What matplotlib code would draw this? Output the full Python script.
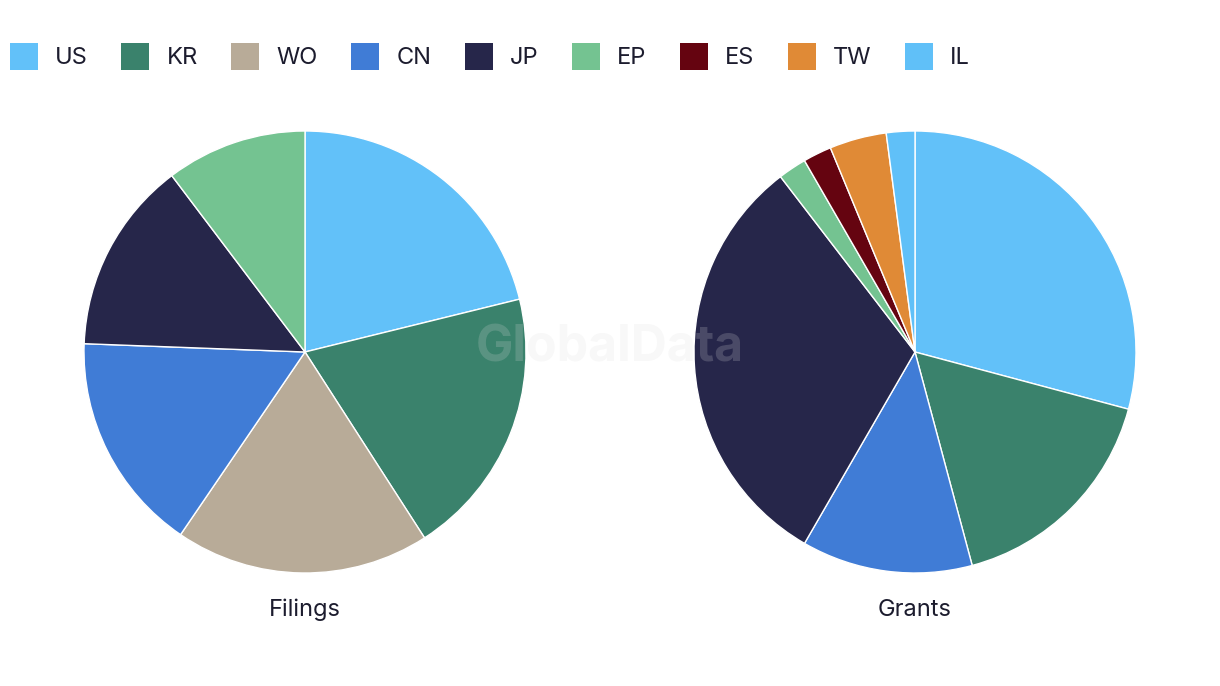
import matplotlib
matplotlib.use('Agg')
import matplotlib.pyplot as plt
from matplotlib.patches import Patch

plt.rcParams['font.family'] = ['Inter', 'DejaVu Sans']

# Data (shares)
countries = ['US', 'KR', 'WO', 'CN', 'JP', 'EP', 'ES', 'TW', 'IL']
colors = ['#62c1f9', '#3a826c', '#b8ab98', '#407cd6', '#26264a',
          '#74c391', '#650410', '#e08a36', '#60c0f8']
filings = [15, 14, 13.2, 11.4, 10, 7.3, 0, 0, 0]
grants = [14, 8, 0, 6, 15, 1, 1, 2, 1]

text_color = '#1c1c2e'

fig = plt.figure(figsize=(12.2, 6.86), dpi=100)
W, H = 1220, 686
r = 221


def draw_pie(cx, cy, values, title):
    ax = fig.add_axes([(cx - r) / W, (H - cy - r) / H, 2 * r / W, 2 * r / H])
    vals = [v for v in values if v > 0]
    cols = [c for v, c in zip(values, colors) if v > 0]
    ax.pie(vals, colors=cols, startangle=90, counterclock=False, radius=1,
           wedgeprops=dict(edgecolor='white', linewidth=1))
    ax.set_xlim(-1, 1)
    ax.set_ylim(-1, 1)
    ax.set_aspect('equal')
    ax.axis('off')
    fig.text(cx / W, 1 - 610 / H, title, ha='center', va='center',
             fontsize=17, color=text_color)


draw_pie(305, 352, filings, 'Filings')
draw_pie(915, 352, grants, 'Grants')

# Legend
handles = [Patch(facecolor=c, edgecolor='none', label=n) for n, c in zip(countries, colors)]
fig.legend(handles=handles, loc='upper left', bbox_to_anchor=(10 / W, 1 - 43 / H),
           ncol=9, frameon=False, fontsize=17, handlelength=1.19, handleheight=1.4,
           handletextpad=0.72, columnspacing=1.42, borderpad=0, borderaxespad=0,
           labelcolor=text_color)

# Watermark
fig.text(610 / W, 1 - 348 / H, 'GlobalData', ha='center', va='center',
         fontsize=36, fontweight='bold', color='#dcdcdc', alpha=0.2, zorder=10)

fig.savefig('out.png', dpi=100)
